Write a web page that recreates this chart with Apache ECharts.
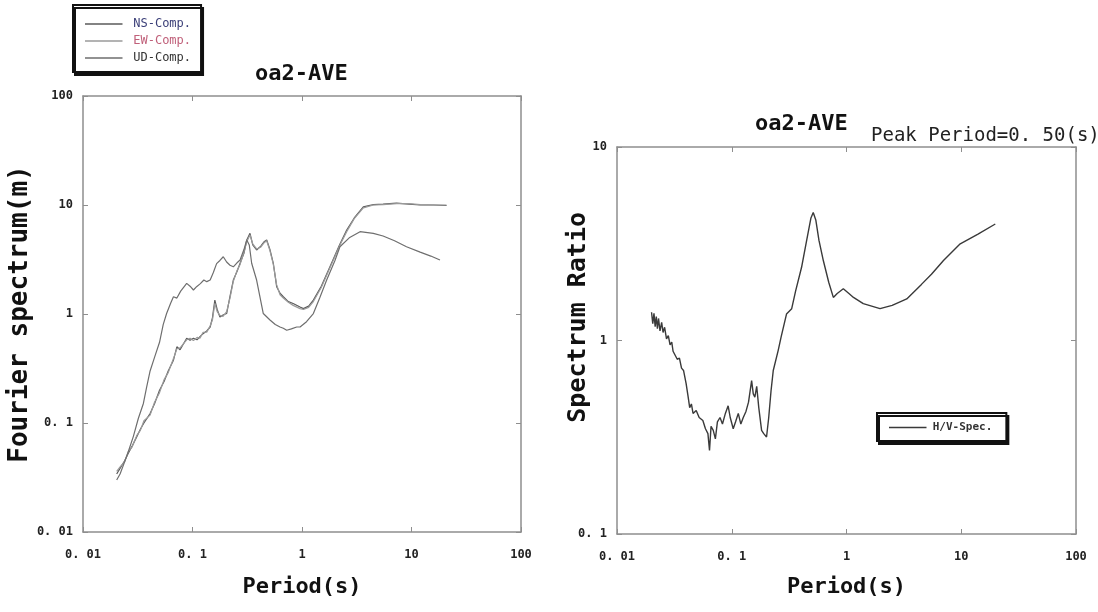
<!DOCTYPE html>
<html><head><meta charset="utf-8">
<script src="https://cdn.jsdelivr.net/npm/echarts@6/dist/echarts.min.js"></script>
<style>html,body{margin:0;padding:0;background:#fff}#c{width:1098px;height:612px}</style>
</head><body><div id="c"></div>
<script>
// ---- data ----
const tickText = ['0. 01', '0. 1', '1', '10', '100']; // exponents -2..2

const nsPeriod = [0.0203,0.022,0.024,0.026,0.028,0.031,0.0335,0.036,0.041,0.045,0.050,0.055,0.060,0.067,0.072,0.077,0.0885,0.095,0.102,0.110,0.117,0.125,0.135,0.145,0.152,0.160,0.168,0.178,0.190,0.205,0.220,0.236,0.255,0.272,0.295,0.313,0.335,0.355,0.385,0.42,0.45,0.476,0.51,0.547,0.587,0.63,0.675,0.75,0.83,0.96,1.03,1.15,1.27,1.5,1.8,2.2,2.56,3.0,3.63,4.5,5.5,7.3,9.5,12,16,20.9];
const nsAmp    = [0.034,0.039,0.045,0.053,0.061,0.075,0.088,0.10,0.122,0.15,0.20,0.24,0.30,0.377,0.50,0.47,0.60,0.575,0.60,0.58,0.62,0.66,0.70,0.76,0.92,1.34,1.10,0.94,0.98,1.01,1.45,2.05,2.45,2.92,3.6,4.78,5.5,4.3,3.87,4.2,4.6,4.78,3.9,2.92,1.78,1.55,1.44,1.3,1.25,1.16,1.12,1.18,1.34,1.8,2.71,4.3,5.89,7.6,9.6,10.1,10.2,10.4,10.2,10.0,10.0,9.9];

const ewPeriod = [0.0203,0.022,0.024,0.026,0.028,0.031,0.0335,0.036,0.041,0.045,0.050,0.055,0.060,0.067,0.072,0.077,0.0885,0.095,0.102,0.110,0.117,0.125,0.135,0.145,0.152,0.160,0.168,0.178,0.190,0.205,0.220,0.236,0.255,0.272,0.295,0.313,0.335,0.355,0.385,0.42,0.45,0.476,0.51,0.547,0.587,0.63,0.675,0.75,0.83,0.96,1.03,1.15,1.27,1.5,1.8,2.2,2.56,3.0,3.63,4.5,5.5,7.3,9.5,12,16,20.9];
const ewAmp    = [0.036,0.040,0.044,0.055,0.060,0.077,0.086,0.105,0.118,0.155,0.19,0.25,0.29,0.39,0.48,0.49,0.58,0.60,0.57,0.61,0.60,0.68,0.68,0.78,0.88,1.25,1.05,0.97,0.95,1.05,1.40,2.0,2.5,2.85,3.7,4.6,5.3,4.4,3.95,4.1,4.5,4.7,3.8,2.85,1.85,1.5,1.40,1.28,1.2,1.12,1.10,1.15,1.30,1.75,2.65,4.2,5.7,7.5,9.4,10.0,10.1,10.3,10.3,10.1,10.0,10.0];

const udPeriod = [0.0203,0.0218,0.024,0.026,0.0288,0.032,0.0356,0.038,0.041,0.045,0.050,0.054,0.058,0.063,0.067,0.072,0.078,0.0885,0.095,0.102,0.109,0.118,0.127,0.135,0.145,0.155,0.166,0.178,0.191,0.205,0.220,0.236,0.255,0.272,0.295,0.313,0.330,0.347,0.385,0.443,0.51,0.57,0.63,0.675,0.725,0.80,0.895,0.96,1.1,1.27,1.45,1.68,2.0,2.22,2.7,3.39,4.48,5.5,7.0,9.0,12,15,18.2];
const udAmp    = [0.030,0.034,0.044,0.055,0.075,0.11,0.151,0.21,0.30,0.40,0.55,0.80,1.01,1.25,1.44,1.40,1.62,1.91,1.80,1.66,1.78,1.90,2.05,1.98,2.05,2.4,2.9,3.1,3.35,3.0,2.8,2.71,2.95,3.13,3.9,4.78,4.3,2.92,2.05,1.01,0.88,0.80,0.76,0.74,0.71,0.73,0.76,0.76,0.85,1.01,1.4,2.05,3.1,4.14,5.0,5.69,5.5,5.2,4.7,4.14,3.7,3.4,3.13];

const hvPeriod = [0.0200,0.0205,0.0210,0.0215,0.0220,0.0225,0.0230,0.0237,0.0245,0.0252,0.0260,0.0270,0.0280,0.0290,0.0300,0.0308,0.0320,0.0335,0.0350,0.0365,0.0380,0.0400,0.0415,0.0430,0.0445,0.0460,0.0490,0.0520,0.0560,0.0590,0.0620,0.0640,0.0660,0.0690,0.0720,0.0750,0.0790,0.0830,0.0880,0.0930,0.0970,0.103,0.108,0.114,0.120,0.126,0.133,0.140,0.149,0.154,0.159,0.165,0.172,0.182,0.190,0.201,0.210,0.220,0.230,0.254,0.270,0.300,0.333,0.360,0.406,0.450,0.490,0.513,0.540,0.575,0.628,0.700,0.768,0.830,0.938,1.05,1.15,1.40,1.96,2.50,3.35,4.50,5.50,7.00,9.80,14.0,19.8];
const hvRatio  = [1.40,1.22,1.38,1.18,1.33,1.15,1.30,1.12,1.24,1.10,1.17,1.02,1.06,0.95,0.98,0.88,0.90,0.80,0.81,0.72,0.70,0.60,0.52,0.45,0.47,0.42,0.435,0.40,0.386,0.35,0.33,0.27,0.36,0.343,0.31,0.38,0.40,0.37,0.42,0.46,0.40,0.35,0.38,0.42,0.37,0.40,0.43,0.48,0.62,0.53,0.51,0.58,0.45,0.343,0.33,0.317,0.40,0.55,0.70,0.89,1.05,1.37,1.46,1.80,2.39,3.30,4.30,4.59,4.20,3.30,2.59,2.00,1.67,1.75,1.85,1.75,1.67,1.55,1.46,1.52,1.64,1.95,2.20,2.59,3.16,3.55,4.00];

const pair = (xs, ys) => xs.map((x, i) => [x, ys[i]]);

// ---- chart ----
const chart = echarts.init(document.getElementById('c'));
const mono = 'DejaVu Sans Mono';
const axisGray = '#8e8e8e';
const fmt = v => tickText[Math.round(Math.log10(v)) + 2];
const lineIcon = 'path://M0,0L100,0L100,4L0,4Z';

function xAx(gi, min, max, pos, showLabel, name, gap) {
  return {
    type: 'log', logBase: 10, gridIndex: gi, min: min, max: max, position: pos,
    axisLine: {show: true, lineStyle: {color: axisGray, width: 1.5}},
    axisTick: {show: true, inside: true, length: 5, lineStyle: {color: axisGray}},
    axisLabel: {show: showLabel, formatter: fmt, fontFamily: mono, fontWeight: 'bold', fontSize: 12, color: '#222', margin: 17},
    splitLine: {show: false},
    name: name || '', nameLocation: 'middle', nameGap: gap || 0,
    nameTextStyle: {fontFamily: mono, fontWeight: 'bold', fontSize: 22, color: '#111'}
  };
}
function yAx(gi, min, max, pos, showLabel, name, gap, nsize) {
  return {
    type: 'log', logBase: 10, gridIndex: gi, min: min, max: max, position: pos,
    axisLine: {show: true, lineStyle: {color: axisGray, width: 1.5}},
    axisTick: {show: true, inside: true, length: 5, lineStyle: {color: axisGray}},
    axisLabel: {show: showLabel, formatter: fmt, fontFamily: mono, fontWeight: 'bold', fontSize: 12, color: '#222', margin: 10},
    splitLine: {show: false},
    name: name || '', nameLocation: 'middle', nameGap: gap || 0,
    nameTextStyle: {fontFamily: mono, fontWeight: 'bold', fontSize: nsize || 22, color: '#111'}
  };
}

const lineS = (name, data, color, xi, yi, w) => ({
  type: 'line', name: name, data: data, xAxisIndex: xi, yAxisIndex: yi,
  symbol: 'none', smooth: false, lineStyle: {color: color, width: w || 1.2}, itemStyle: {color: color},
  z: 3
});

chart.setOption({
  animation: false,
  backgroundColor: '#fff',
  title: [
    {text: 'oa2-AVE', left: 250, top: 58, textStyle: {fontFamily: mono, fontWeight: 'bold', fontSize: 22, color: '#111'}},
    {text: 'oa2-AVE', left: 750, top: 108, textStyle: {fontFamily: mono, fontWeight: 'bold', fontSize: 22, color: '#111'}},
    {text: 'Peak Period=0. 50(s)', left: 866, top: 122, textStyle: {fontFamily: mono, fontWeight: 'normal', fontSize: 19, color: '#222'}}
  ],
  grid: [
    {left: 83, top: 96, width: 438, height: 436},
    {left: 617, top: 147, width: 459, height: 387}
  ],
  xAxis: [
    xAx(0, 0.01, 100, 'bottom', true, 'Period(s)', 44),
    xAx(0, 0.01, 100, 'top', false),
    xAx(1, 0.01, 100, 'bottom', true, 'Period(s)', 42),
    xAx(1, 0.01, 100, 'top', false)
  ],
  yAxis: [
    yAx(0, 0.01, 100, 'left', true, 'Fourier spectrum(m)', 46, 26),
    yAx(0, 0.01, 100, 'right', false),
    yAx(1, 0.1, 10, 'left', true, '', 0),
    yAx(1, 0.1, 10, 'right', false)
  ],
  graphic: [
    {type: 'text', left: 566, top: 212, rotation: Math.PI / 2,
     style: {text: 'Spectrum Ratio', font: 'bold 25px "DejaVu Sans Mono"', fill: '#111'}}
  ],
  legend: [
    {
      orient: 'vertical', left: 73, top: 5, itemWidth: 45, itemHeight: 1.5, itemGap: 5,
      icon: lineIcon,
      padding: [13, 10, 8, 12],
      borderColor: '#111', borderWidth: 2, backgroundColor: '#fff',
      shadowColor: '#111', shadowOffsetX: 2, shadowOffsetY: 3, shadowBlur: 0,
      textStyle: {fontFamily: mono, fontSize: 12, padding: [0, 0, 0, 2]},
      data: [
        {name: 'NS-Comp.', textStyle: {color: '#3b3f78'}},
        {name: 'EW-Comp.', textStyle: {color: '#c0607a'}},
        {name: 'UD-Comp.', textStyle: {color: '#333'}}
      ]
    },
    {
      orient: 'vertical', left: 877, top: 413, itemWidth: 40, itemHeight: 1.5,
      icon: lineIcon,
      padding: [9, 14, 8, 12],
      borderColor: '#111', borderWidth: 2, backgroundColor: '#fff',
      shadowColor: '#111', shadowOffsetX: 2, shadowOffsetY: 3, shadowBlur: 0,
      textStyle: {fontFamily: mono, fontSize: 11, fontWeight: 'bold', color: '#333'},
      data: ['H/V-Spec.']
    }
  ],
  series: [
    lineS('NS-Comp.', pair(nsPeriod, nsAmp), '#5a5a5a', 0, 0),
    lineS('EW-Comp.', pair(ewPeriod, ewAmp), '#9a9a9a', 0, 0),
    lineS('UD-Comp.', pair(udPeriod, udAmp), '#6e6e6e', 0, 0),
    lineS('H/V-Spec.', pair(hvPeriod, hvRatio), '#3a3a3a', 2, 2, 1.4)
  ]
});
</script></body></html>
